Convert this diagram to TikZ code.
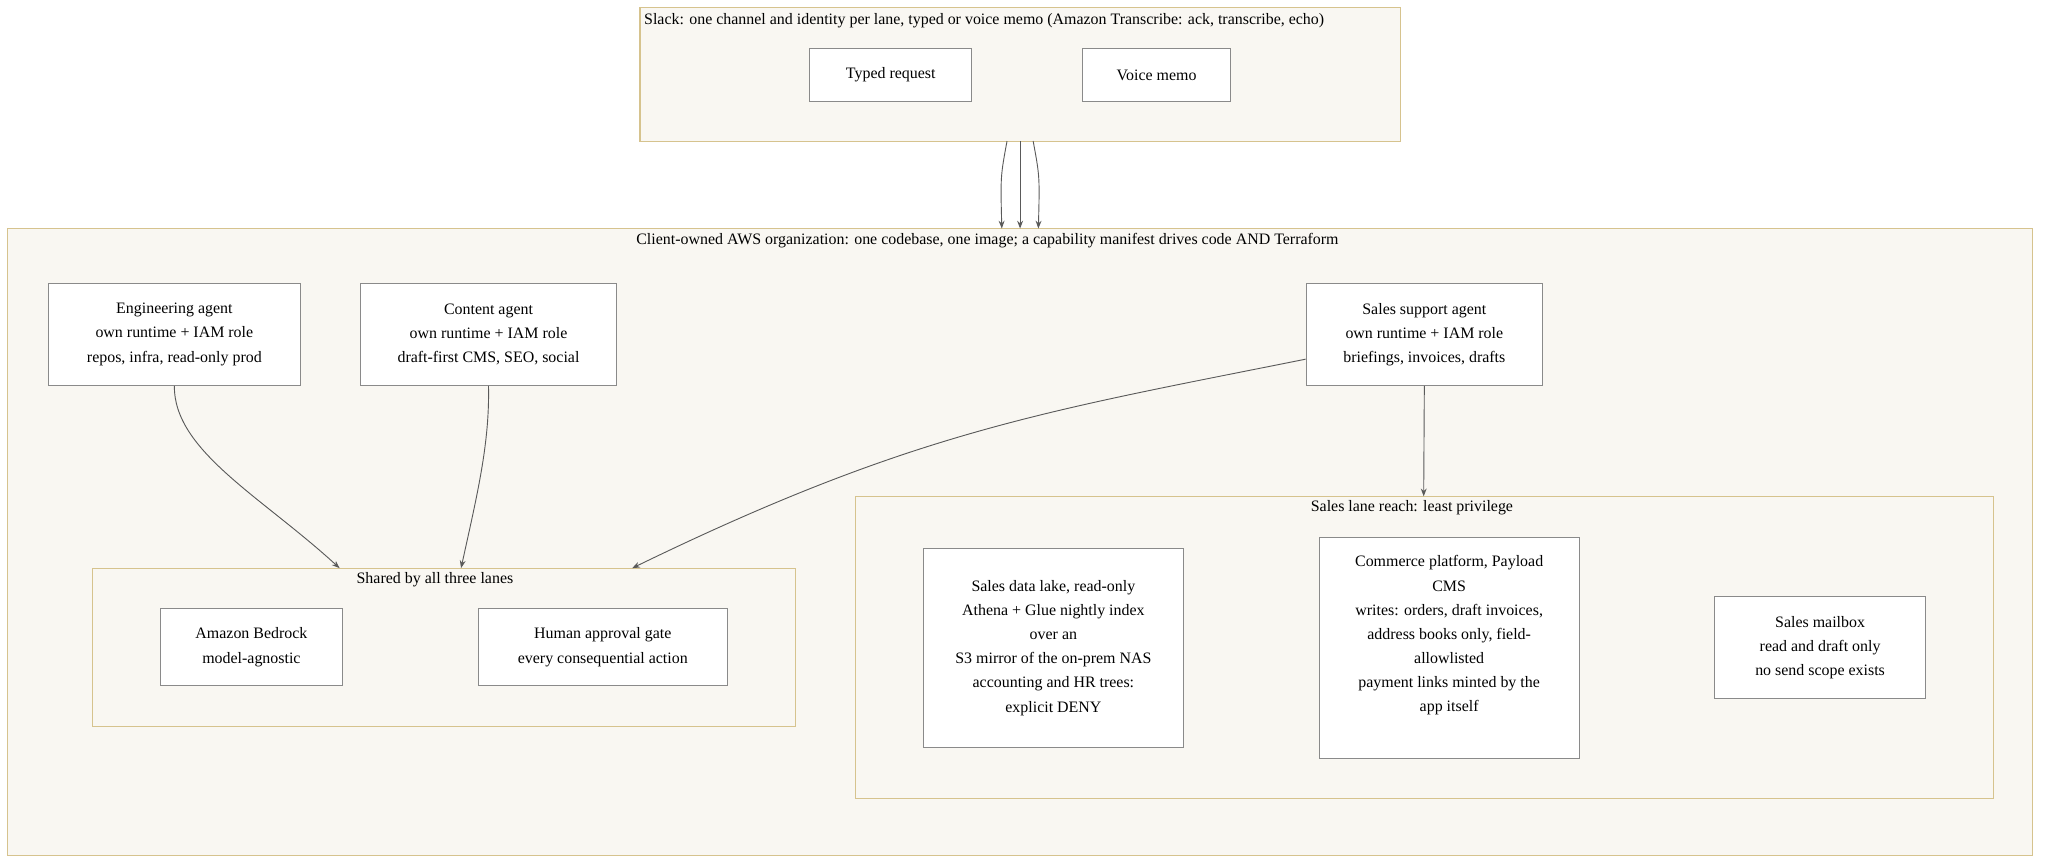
\documentclass[tikz,border=0pt]{standalone}
\usepackage{fontspec}
\setmainfont{Liberation Serif}
\usetikzlibrary{arrows.meta}
\definecolor{grpfill}{HTML}{F9F7F2}
\definecolor{grpline}{HTML}{D6C38E}
\definecolor{boxline}{HTML}{8A8A8A}
\definecolor{arr}{HTML}{5A5A5A}
\begin{document}
\begin{tikzpicture}[x=1pt,y=-1pt,
  grp/.style={draw=grpline,fill=grpfill,line width=0.8pt},
  box/.style={draw=boxline,fill=white,line width=0.8pt,align=center,font=\fontsize{12.2}{18.5}\selectfont,inner sep=0pt},
  ttl/.style={font=\fontsize{12.2}{14}\selectfont,inner sep=0pt},
  conn/.style={draw=arr,line width=0.7pt,-{Stealth[length=6pt,width=4.5pt]}}]
\useasboundingbox (0,0) rectangle (1568,661);
% groups
\draw[grp] (490,6) rectangle (1072,108);
\node[ttl,anchor=west] (slackt) at (493,15.5) {Slack: one channel and identity per lane, typed or voice memo (Amazon Transcribe: ack, transcribe, echo)};
\draw[grp] (6,175) rectangle (1556,655);
\node[ttl] (awst) at (756,184) {Client-owned AWS organization: one codebase, one image; a capability manifest drives code AND Terraform};
\draw[grp] (71,435) rectangle (609,556);
\node[ttl] (sharedt) at (333,444) {Shared by all three lanes};
\draw[grp] (655,380) rectangle (1526,611);
\node[ttl] (lanet) at (1081,389) {Sales lane reach: least privilege};
\coordinate (slackb1) at (771,108);
\coordinate (slackb2) at (781,108);
\coordinate (slackb3) at (791,108);
\coordinate (awsa1) at (767,175);
\coordinate (awsa2) at (781,175);
\coordinate (awsa3) at (795,175);
\coordinate (sharedtop1) at (260,435);
\coordinate (sharedtop2) at (353,435);
\coordinate (sharedtop3) at (484,435);
\coordinate (lanetop) at (1090,380);
% nodes
\node[box,minimum width=124pt,minimum height=41pt] (typed) at (682,57.5) {Typed request};
\node[box,minimum width=113pt,minimum height=41pt] (voice) at (885.5,57.5) {Voice memo};
\node[box,minimum width=193pt,minimum height=78pt] (eng) at (133.5,256) {Engineering agent\\own runtime + IAM role\\repos, infra, read-only prod};
\node[box,minimum width=196pt,minimum height=78pt] (content) at (374,256) {Content agent\\own runtime + IAM role\\draft-first CMS, SEO, social};
\node[box,minimum width=181pt,minimum height=78pt] (sales) at (1090.5,256) {Sales support agent\\own runtime + IAM role\\briefings, invoices, drafts};
\node[box,minimum width=139pt,minimum height=59pt] (bedrock) at (192.5,495.5) {Amazon Bedrock\\model-agnostic};
\node[box,minimum width=191pt,minimum height=59pt] (human) at (461.5,495.5) {Human approval gate\\every consequential action};
\node[box,minimum width=199pt,minimum height=152pt] (lake) at (806.5,496) {Sales data lake, read-only\\Athena + Glue nightly index\\over an\\S3 mirror of the on-prem NAS\\accounting and HR trees:\\explicit DENY};
\node[box,minimum width=199pt,minimum height=169pt,anchor=north] (commerce) at (1109.5,411) {};
\node[box,draw=none,fill=none,anchor=north] (committ) at (1109.5,425) {Commerce platform, Payload\\CMS\\writes: orders, draft invoices,\\address books only, field-\\allowlisted\\payment links minted by the\\app itself};
\node[box,minimum width=161pt,minimum height=78pt] (mail) at (1393.5,496) {Sales mailbox\\read and draft only\\no send scope exists};
% connectors
\draw[conn] (slackb1) .. controls (766,135) .. (awsa1);
\draw[conn] (slackb2) -- (awsa2);
\draw[conn] (slackb3) .. controls (796,135) .. (awsa3);
\draw[conn] (eng.south) .. controls (133,345) and (200,380) .. (sharedtop1);
\draw[conn] (content.south) .. controls (375,340) and (365,380) .. (sharedtop2);
\draw[conn] (sales.west |- 0,275) .. controls (800,315) and (700,330) .. (sharedtop3);
\draw[conn] (sales.south) -- (lanetop);
\end{tikzpicture}
\end{document}
